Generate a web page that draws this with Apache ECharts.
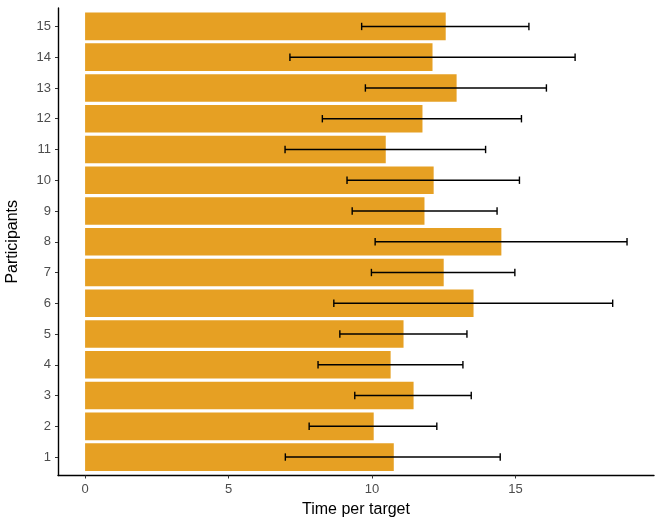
<!DOCTYPE html>
<html>
<head>
<meta charset="utf-8">
<script src="https://cdn.jsdelivr.net/npm/echarts@6/dist/echarts.min.js"></script>
<style>
  html, body { margin: 0; padding: 0; background: #fff; }
  #chart { width: 656px; height: 518px; }
</style>
</head>
<body>
<div id="chart"></div>
<script>
// Participant ids (bottom to top)
const participants = [1, 2, 3, 4, 5, 6, 7, 8, 9, 10, 11, 12, 13, 14, 15];
// Mean time per target for each participant
const meanTime = [10.76, 10.06, 11.45, 10.65, 11.10, 13.54, 12.50, 14.51, 11.83, 12.15, 10.48, 11.76, 12.95, 12.11, 12.57];
// Error bar lower and upper bounds
const lowerBound = [6.98, 7.81, 9.40, 8.12, 8.88, 8.67, 9.98, 10.11, 9.31, 9.13, 6.97, 8.27, 9.77, 7.14, 9.64];
const upperBound = [14.47, 12.26, 13.46, 13.17, 13.31, 18.39, 14.98, 18.89, 14.36, 15.14, 13.96, 15.21, 16.08, 17.08, 15.47];
// X tick values
const xTicks = [0, 5, 10, 15];

const FONT = '"Liberation Sans", Arial, sans-serif';
const BAR_HALF = 0.45;
const CAP_HALF = 0.12;

const barData = participants.map((p, i) => [meanTime[i], p]);
const errData = participants.map((p, i) => [lowerBound[i], upperBound[i], p]);

const chart = echarts.init(document.getElementById('chart'), null, { renderer: 'canvas' });

chart.setOption({
  animation: false,
  backgroundColor: '#ffffff',
  grid: { left: 58, right: 2, top: 8, bottom: 42.5, containLabel: false, outerBoundsMode: 'none' },
  xAxis: {
    type: 'value',
    min: -0.944,
    max: 19.83,
    name: 'Time per target',
    nameLocation: 'middle',
    nameGap: 26,
    nameTextStyle: { fontFamily: FONT, fontSize: 16, color: '#000' },
    axisLine: { show: true, onZero: false, lineStyle: { color: '#000', width: 1.4 } },
    axisTick: { show: true, length: 3, customValues: xTicks, lineStyle: { color: '#333', width: 1 } },
    axisLabel: { customValues: xTicks, fontFamily: FONT, fontSize: 13, color: '#4d4d4d', margin: 7 },
    splitLine: { show: false }
  },
  yAxis: {
    type: 'value',
    min: 0.4,
    max: 15.6,
    name: 'Participants',
    nameLocation: 'middle',
    nameGap: 37,
    nameRotate: 90,
    nameTextStyle: { fontFamily: FONT, fontSize: 16, color: '#000' },
    axisLine: { show: true, onZero: false, lineStyle: { color: '#000', width: 1.4 } },
    axisTick: { show: true, length: 3, customValues: participants, lineStyle: { color: '#333', width: 1 } },
    axisLabel: { customValues: participants, fontFamily: FONT, fontSize: 13, color: '#4d4d4d', margin: 7 },
    splitLine: { show: false }
  },
  series: [
    {
      type: 'custom',
      name: 'mean',
      data: barData,
      encode: { x: 0, y: 1 },
      renderItem: function (params, api) {
        const v = api.value(0);
        const p = api.value(1);
        const a = api.coord([0, p + BAR_HALF]);
        const b = api.coord([v, p - BAR_HALF]);
        return {
          type: 'rect',
          shape: { x: a[0], y: a[1], width: b[0] - a[0], height: b[1] - a[1] },
          style: { fill: '#E6A023' }
        };
      }
    },
    {
      type: 'custom',
      name: 'range',
      data: errData,
      encode: { x: [0, 1], y: 2 },
      z: 3,
      renderItem: function (params, api) {
        const lo = api.value(0);
        const hi = api.value(1);
        const p = api.value(2);
        const l = api.coord([lo, p]);
        const h = api.coord([hi, p]);
        const capTop = api.coord([lo, p + CAP_HALF])[1];
        const capBot = api.coord([lo, p - CAP_HALF])[1];
        const style = { stroke: '#000', lineWidth: 1.4 };
        return {
          type: 'group',
          children: [
            { type: 'line', shape: { x1: l[0], y1: l[1], x2: h[0], y2: h[1] }, style: style },
            { type: 'line', shape: { x1: l[0], y1: capTop, x2: l[0], y2: capBot }, style: style },
            { type: 'line', shape: { x1: h[0], y1: capTop, x2: h[0], y2: capBot }, style: style }
          ]
        };
      }
    }
  ]
});
</script>
</body>
</html>
